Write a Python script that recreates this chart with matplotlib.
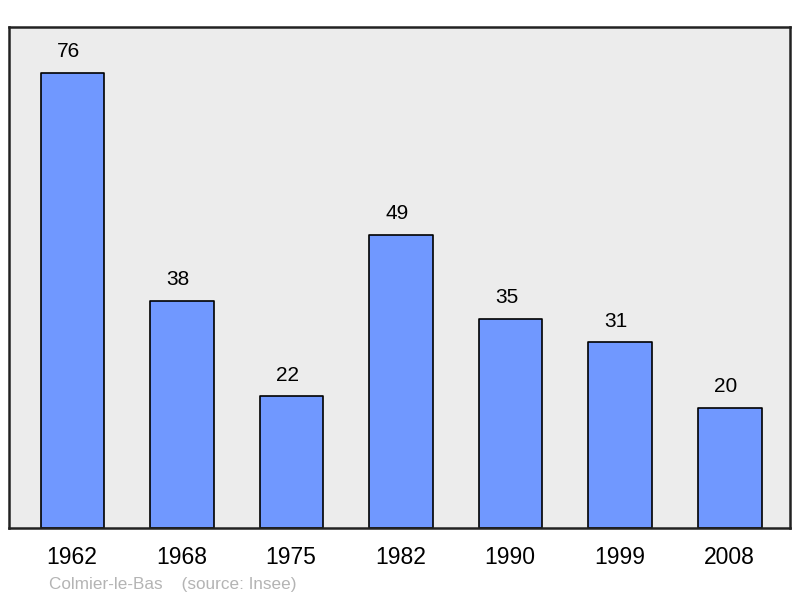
import matplotlib.pyplot as plt
from matplotlib.transforms import ScaledTranslation

years = ['1962', '1968', '1975', '1982', '1990', '1999', '2008']
population = [76, 38, 22, 49, 35, 31, 20]

plt.rcParams['font.family'] = ['Liberation Sans', 'DejaVu Sans']

fig = plt.figure(figsize=(8, 5.98), dpi=100)
ax = fig.add_axes([9 / 800, 70 / 598, 781 / 800, 501 / 598])
ax.set_facecolor('#ececec')

x = range(len(years))
bars = ax.bar(x, population, width=0.58, color='#7098ff', edgecolor='black',
              linewidth=1.2, joinstyle='round')

# value labels, slightly left of bar centre like the original
for xi, v in zip(x, population):
    ax.annotate(str(v), (xi, v), xytext=(-3, 8.5), textcoords='offset points',
                ha='center', va='bottom', fontsize=15)

ax.set_xlim(-0.58, 6.55)
ax.set_ylim(0, 83.7)
ax.set_yticks([])
ax.set_xticks(list(x))
ax.set_xticklabels(years, fontsize=16.5)
ax.tick_params(axis='x', length=0, pad=13)
shift = ScaledTranslation(-0.5 / 100, 0, fig.dpi_scale_trans)
for lbl in ax.get_xticklabels():
    lbl.set_transform(lbl.get_transform() + shift)
for s in ax.spines.values():
    s.set_linewidth(1.8)
    s.set_color('#222222')

fig.text(49 / 800, 1 - 584 / 598, 'Colmier-le-Bas    (source: Insee)',
         color='#b4b4b4', fontsize=12.3, va='center', ha='left')

fig.savefig('out.png', dpi=100)
